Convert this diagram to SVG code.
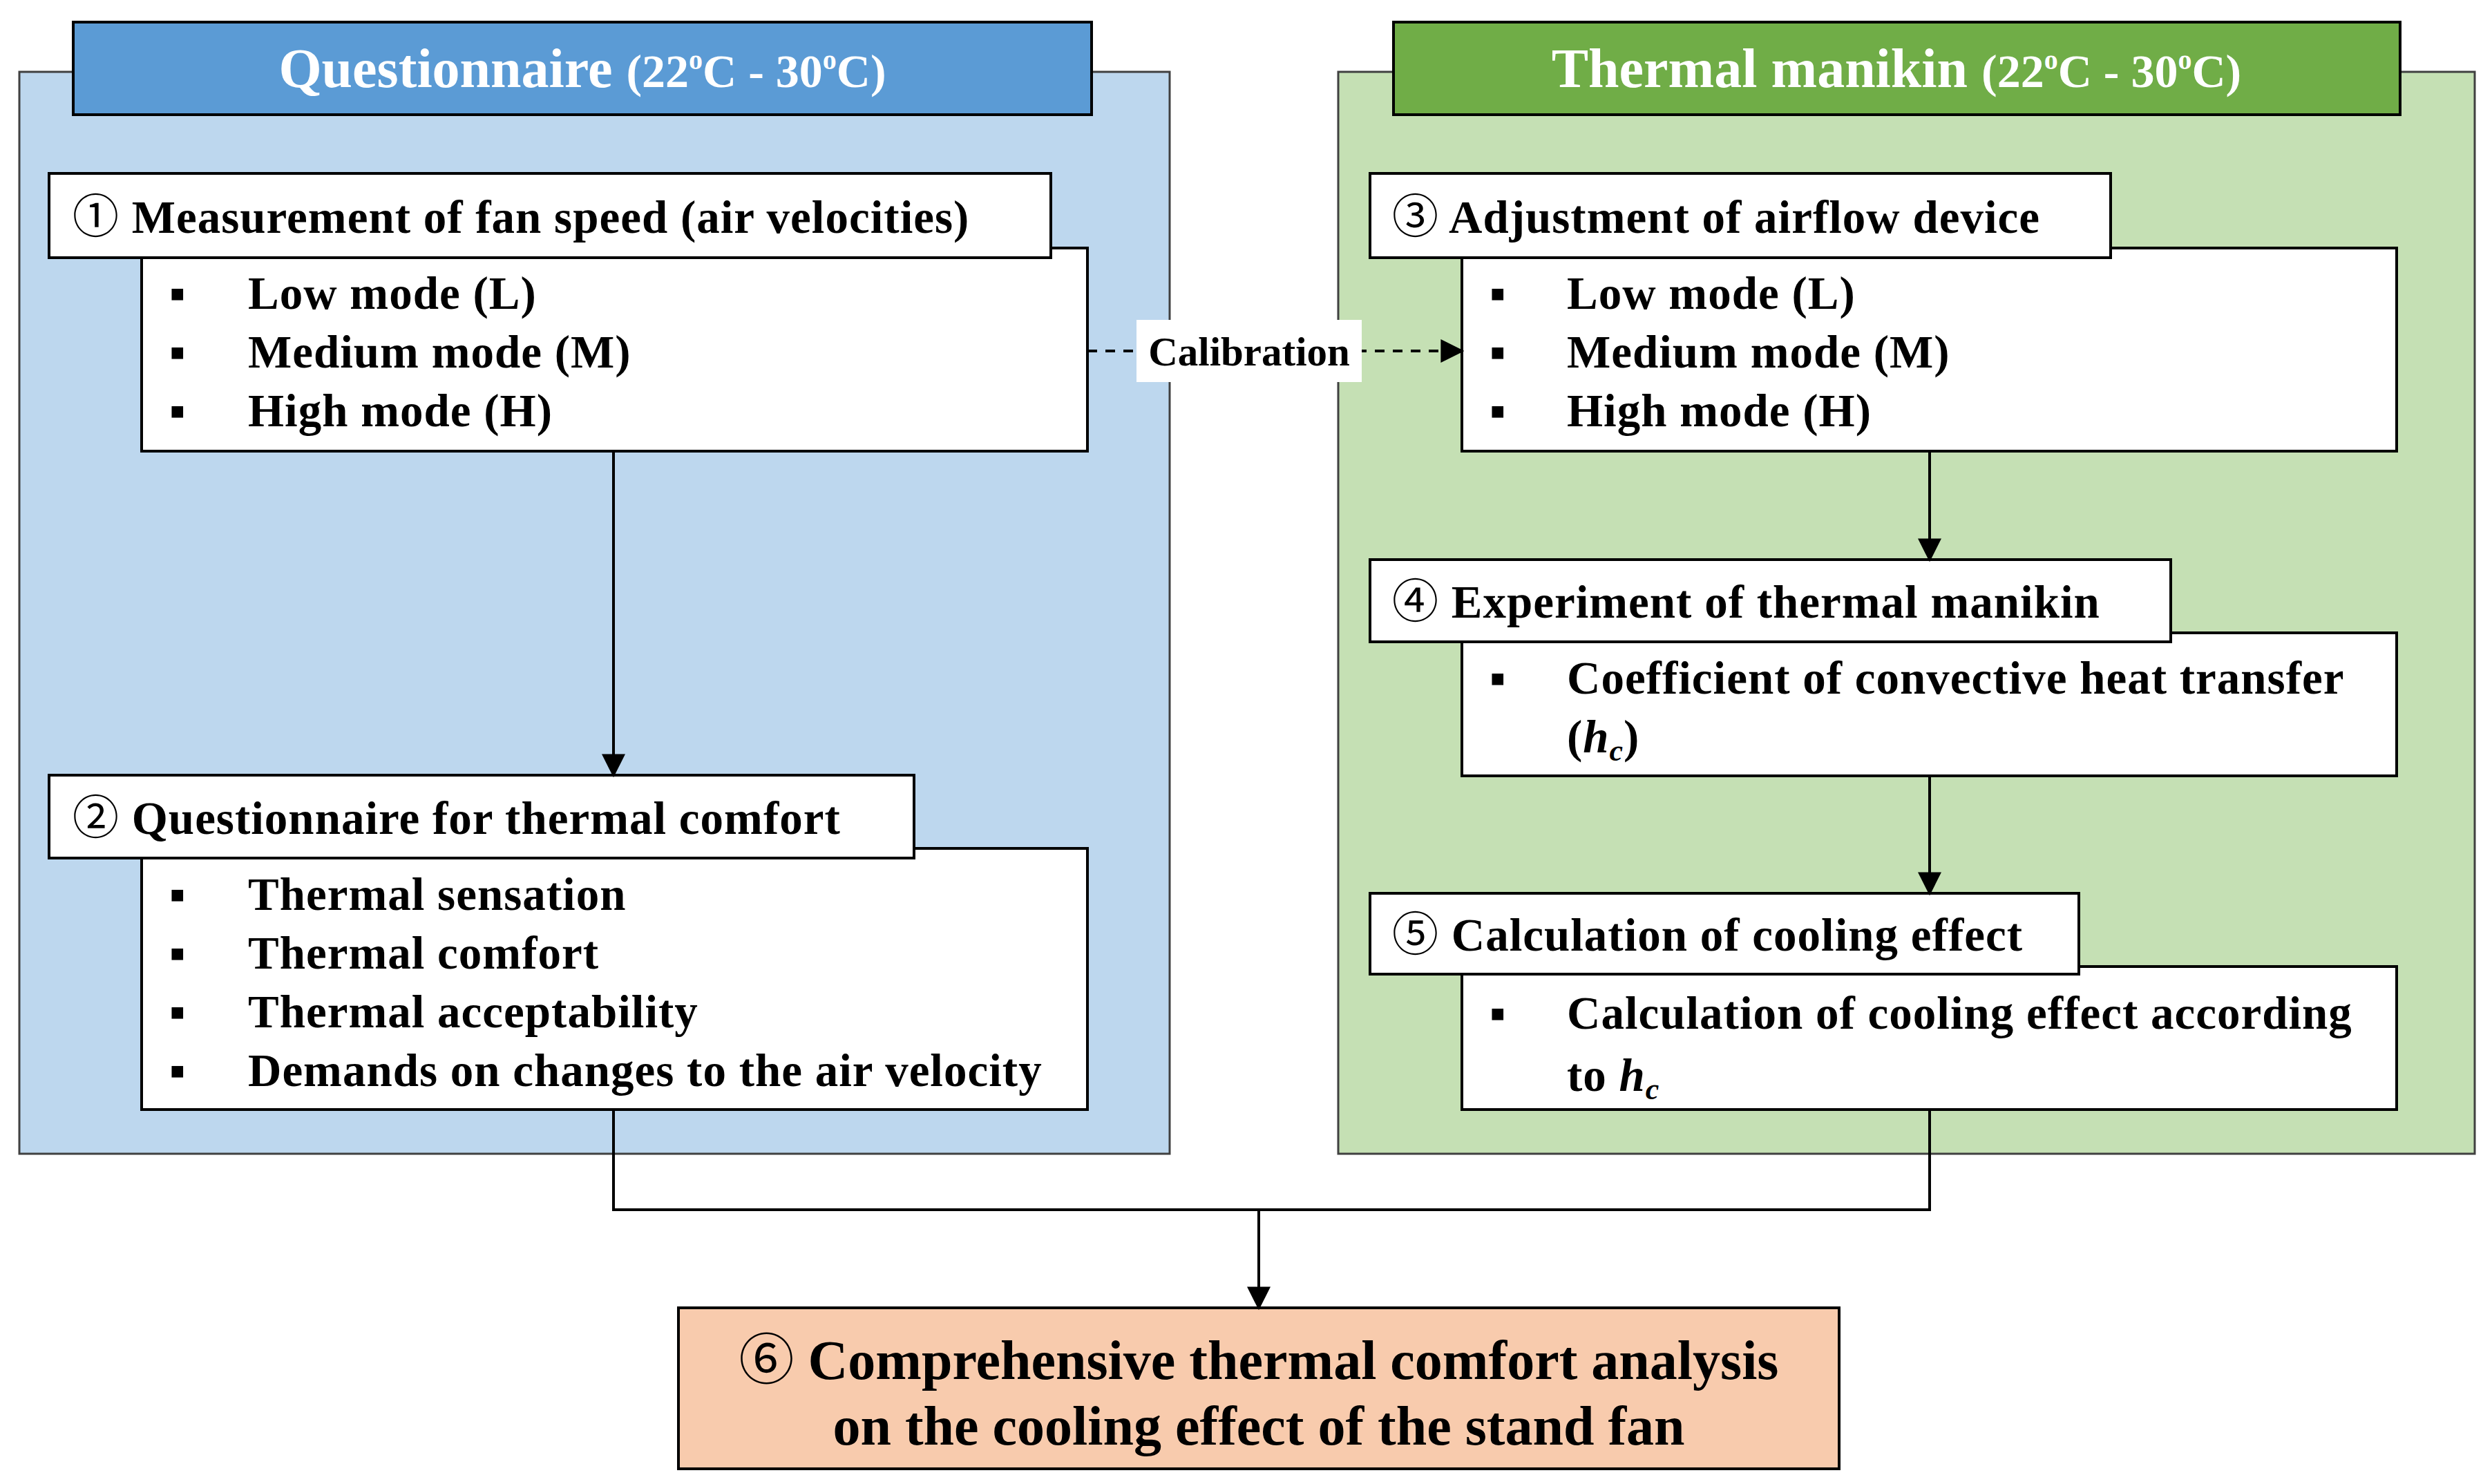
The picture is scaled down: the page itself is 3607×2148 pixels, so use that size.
<svg xmlns="http://www.w3.org/2000/svg" width="3607" height="2148" viewBox="0 0 3607 2148">
<style>
text{font-family:"Liberation Serif","DejaVu Serif",serif;font-weight:bold;fill:#000}
.t{font-size:67px;letter-spacing:1px}
.c{font-family:"Noto Sans CJK KR","DejaVu Sans",sans-serif;font-weight:normal}
.h{font-size:80px;fill:#fff}
.b{fill:#fff;stroke:#000;stroke-width:4}
.ln{fill:none;stroke:#000;stroke-width:4}
</style>
<defs>
<marker id="m" viewBox="0 0 10 10" refX="9" refY="5" markerWidth="34" markerHeight="34" markerUnits="userSpaceOnUse" orient="auto"><path d="M0,0L10,5L0,10z"/></marker></defs>
<g id="panelL"><rect x="28" y="104" width="1665" height="1566" fill="#bdd7ee" stroke="#404040" stroke-width="3"/>
<rect x="106" y="32" width="1474" height="134" fill="#5b9bd5" stroke="#000" stroke-width="4"/>
<text class="h" x="843" y="126" text-anchor="middle">Questionnaire <tspan font-size="68">(22<tspan font-size="40" dy="-26">o</tspan><tspan dy="26">C - 30</tspan><tspan font-size="40" dy="-26">o</tspan><tspan dy="26">C)</tspan></tspan></text></g>
<g id="panelR"><rect x="1937" y="104" width="1645" height="1566" fill="#c5e0b4" stroke="#404040" stroke-width="3"/>
<rect x="2017" y="32" width="1457" height="134" fill="#70ad47" stroke="#000" stroke-width="4"/>
<text class="h" x="2745" y="126" text-anchor="middle">Thermal manikin <tspan font-size="68">(22<tspan font-size="40" dy="-26">o</tspan><tspan dy="26">C - 30</tspan><tspan font-size="40" dy="-26">o</tspan><tspan dy="26">C)</tspan></tspan></text></g>
<g id="n1"><rect class="b" x="205" y="359" width="1369" height="294"/><rect class="b" x="71" y="251" width="1450" height="122"/>
<text class="t" x="105" y="337"><tspan class="c">①</tspan> Measurement of fan speed (air velocities)</text>
<text class="t"><tspan x="245" y="447">▪</tspan><tspan x="359" y="447">Low mode (L)</tspan><tspan x="245" y="532">▪</tspan><tspan x="359" y="532">Medium mode (M)</tspan><tspan x="245" y="617">▪</tspan><tspan x="359" y="617">High mode (H)</tspan></text></g>
<g id="n2"><rect class="b" x="205" y="1228" width="1369" height="378"/><rect class="b" x="71" y="1122" width="1252" height="120"/>
<text class="t" x="105" y="1207"><tspan class="c">②</tspan> Questionnaire for thermal comfort</text>
<text class="t"><tspan x="245" y="1317">▪</tspan><tspan x="359" y="1317">Thermal sensation</tspan><tspan x="245" y="1402">▪</tspan><tspan x="359" y="1402">Thermal comfort</tspan><tspan x="245" y="1487">▪</tspan><tspan x="359" y="1487">Thermal acceptability</tspan><tspan x="245" y="1572">▪</tspan><tspan x="359" y="1572">Demands on changes to the air velocity</tspan></text></g>
<g id="n3"><rect class="b" x="2116" y="359" width="1353" height="294"/><rect class="b" x="1983" y="251" width="1072" height="122"/>
<text class="t" x="2015" y="337"><tspan class="c">③</tspan> Adjustment of airflow device</text>
<text class="t"><tspan x="2156" y="447">▪</tspan><tspan x="2268" y="447">Low mode (L)</tspan><tspan x="2156" y="532">▪</tspan><tspan x="2268" y="532">Medium mode (M)</tspan><tspan x="2156" y="617">▪</tspan><tspan x="2268" y="617">High mode (H)</tspan></text></g>
<g id="n4"><rect class="b" x="2116" y="916" width="1353" height="207"/><rect class="b" x="1983" y="810" width="1159" height="119"/>
<text class="t" x="2015" y="894"><tspan class="c">④</tspan> Experiment of thermal manikin</text>
<text class="t"><tspan x="2156" y="1004">▪</tspan><tspan x="2268" y="1004">Coefficient of convective heat transfer</tspan><tspan x="2268" y="1089">(<tspan font-style="italic">h</tspan><tspan font-style="italic" font-size="44" dy="12">c</tspan><tspan dy="-12">)</tspan></tspan></text></g>
<g id="n5"><rect class="b" x="2116" y="1399" width="1353" height="207"/><rect class="b" x="1983" y="1293" width="1026" height="117"/>
<text class="t" x="2015" y="1376"><tspan class="c">⑤</tspan> Calculation of cooling effect</text>
<text class="t"><tspan x="2156" y="1489">▪</tspan><tspan x="2268" y="1489">Calculation of cooling effect according</tspan><tspan x="2268" y="1579">to <tspan font-style="italic">h</tspan><tspan font-style="italic" font-size="44" dy="12">c</tspan></tspan></text></g>
<g id="n6"><rect x="982" y="1893" width="1680" height="233" fill="#f8cbad" stroke="#000" stroke-width="4"/>
<text font-size="80" x="1822" y="1996" text-anchor="middle"><tspan class="c">⑥</tspan>  Comprehensive thermal comfort analysis</text>
<text font-size="80" x="1822" y="2091" text-anchor="middle">on the cooling effect of the stand fan</text></g>
<g id="connectors">
<path class="ln" d="M1574,508H2116" stroke-dasharray="14,12" marker-end="url(#m)"/>
<rect x="1645" y="463" width="326" height="90" fill="#fff"/>
<text x="1808" y="529" font-size="59" text-anchor="middle">Calibration</text>
<path class="ln" d="M888,653V1122" marker-end="url(#m)"/>
<path class="ln" d="M2793,653V810" marker-end="url(#m)"/>
<path class="ln" d="M2793,1123V1293" marker-end="url(#m)"/>
<path class="ln" d="M888,1606V1751H2793V1606"/>
<path class="ln" d="M1822,1751V1893" marker-end="url(#m)"/>
</g>
</svg>
